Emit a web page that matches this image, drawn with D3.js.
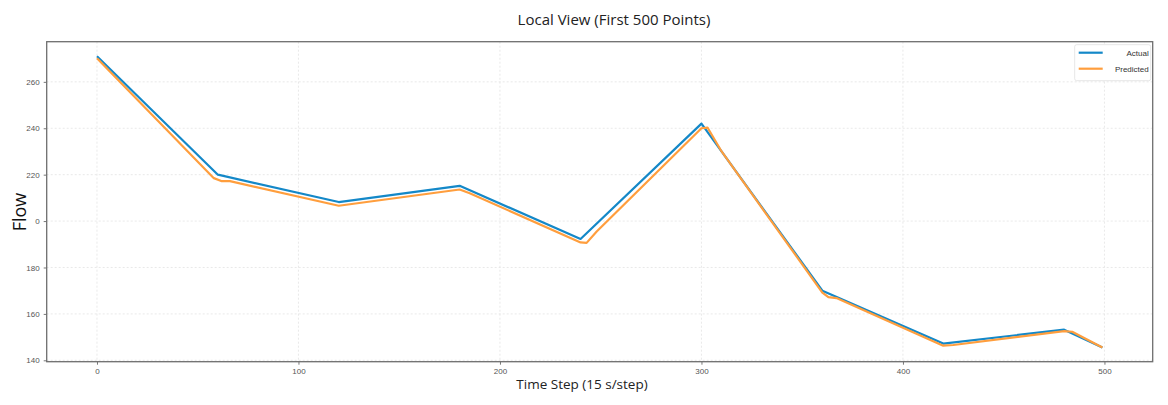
<!DOCTYPE html>
<html>
<head>
<meta charset="utf-8">
<script src="https://cdn.jsdelivr.net/npm/d3@7"></script>
<style>
  html, body { margin: 0; padding: 0; background: #fff; }
  svg { display: block; }
</style>
</head>
<body>
<div id="chart"></div>
<script>
// Values (time step, flow)
const actualSteps = [0, 60, 120, 180, 240, 300, 360, 420, 480, 499];
const actualFlow = [271, 220, 208.2, 215.2, 192.3, 242, 170, 147.2, 153.2, 145.5];

const predictedSteps = [0, 58, 62, 66, 120, 180, 185, 240, 243, 248, 300, 303, 310, 360, 363, 367, 420, 425, 480, 484, 499];
const predictedFlow = [270.2, 218.5, 217.2, 217.2, 206.6, 213.6, 212, 190.8, 190.6, 195.5, 240, 240.3, 230, 169.2, 167.2, 166.8, 146.3, 146.6, 152.6, 152.3, 145.5];

const xTicks = [0, 100, 200, 300, 400, 500];
const yTicks = [140, 160, 180, 200, 220, 240, 260];
const yTickLabels = ['140', '160', '180', '0', '220', '240', '260'];

const W = 1168, H = 405;
const margin = { left: 46.7, right: 15.3, top: 41.7, bottom: 43.3 };
const width = W - margin.left - margin.right;
const height = H - margin.top - margin.bottom;

const svg = d3.select('#chart').append('svg')
  .attr('width', W)
  .attr('height', H);

const g = svg.append('g')
  .attr('transform', `translate(${margin.left},${margin.top})`);

// matplotlib-style 5% padding around the data
const xScale = d3.scaleLinear().domain([-24.95, 523.95]).range([0, width]);
const yScale = d3.scaleLinear().domain([139.4, 277.3]).range([height, 0]);

// Grid
g.append('g').selectAll('line').data(xTicks).join('line')
  .attr('x1', d => xScale(d)).attr('x2', d => xScale(d))
  .attr('y1', 0).attr('y2', height)
  .attr('stroke', '#e3e3e3').attr('stroke-width', 0.8)
  .attr('stroke-dasharray', '2,2');

g.append('g').selectAll('line').data(yTicks).join('line')
  .attr('x1', 0).attr('x2', width)
  .attr('y1', d => yScale(d)).attr('y2', d => yScale(d))
  .attr('stroke', '#e3e3e3').attr('stroke-width', 0.8)
  .attr('stroke-dasharray', '2,2');

// Axes
const xAxis = d3.axisBottom(xScale).tickValues(xTicks).tickSize(3).tickPadding(4);
const yAxis = d3.axisLeft(yScale).tickValues(yTicks).tickSize(3).tickPadding(4)
  .tickFormat((d, i) => yTickLabels[i]);

const xg = g.append('g').attr('transform', `translate(0,${height})`).call(xAxis);
const yg = g.append('g').call(yAxis);

[xg, yg].forEach(ax => {
  ax.select('.domain').remove();
  ax.selectAll('line').attr('stroke', '#777');
  ax.selectAll('text')
    .attr('fill', '#555')
    .attr('font-family', 'Liberation Sans, Arial, sans-serif')
    .attr('font-size', '8px');
});

// Frame
g.append('rect')
  .attr('width', width).attr('height', height)
  .attr('fill', 'none')
  .attr('stroke', '#6e6e6e')
  .attr('stroke-width', 1.3);

// Lines
const line = d3.line()
  .x(d => xScale(d[0]))
  .y(d => yScale(d[1]));

const actual = actualSteps.map((s, i) => [s, actualFlow[i]]);
const predicted = predictedSteps.map((s, i) => [s, predictedFlow[i]]);

g.append('path')
  .datum(actual)
  .attr('d', line)
  .attr('fill', 'none')
  .attr('stroke', '#1488c8')
  .attr('stroke-width', 2.2)
  .attr('stroke-linejoin', 'round');

g.append('path')
  .datum(predicted)
  .attr('d', line)
  .attr('fill', 'none')
  .attr('stroke', '#ff9e3d')
  .attr('stroke-width', 2.2)
  .attr('stroke-linejoin', 'round');

// Legend
const legend = svg.append('g')
  .attr('transform', `translate(${W - margin.right - 78},${margin.top + 3})`);

legend.append('rect')
  .attr('width', 76).attr('height', 36)
  .attr('rx', 2)
  .attr('fill', '#fff')
  .attr('stroke', '#e0e0e0')
  .attr('stroke-width', 0.8);

const legendItems = [
  { label: 'Actual', color: '#1488c8' },
  { label: 'Predicted', color: '#ff9e3d' }
];

legendItems.forEach((item, i) => {
  const row = legend.append('g').attr('transform', `translate(0,${8 + i * 16})`);
  row.append('line')
    .attr('x1', 4).attr('x2', 28)
    .attr('y1', 0).attr('y2', 0)
    .attr('stroke', item.color)
    .attr('stroke-width', 2.2);
  row.append('text')
    .attr('x', 74).attr('y', 3 + i * 0)
    .attr('text-anchor', 'end')
    .attr('fill', '#333')
    .attr('font-family', 'Liberation Sans, Arial, sans-serif')
    .attr('font-size', '8px')
    .text(item.label);
});

// Title and axis labels
svg.append('text')
  .attr('x', 614).attr('y', 25)
  .attr('text-anchor', 'middle')
  .attr('fill', '#222')
  .attr('font-family', 'Open Sans, sans-serif')
  .attr('font-size', '15px')
  .text('Local View (First 500 Points)');

svg.append('text')
  .attr('x', 582).attr('y', 389)
  .attr('text-anchor', 'middle')
  .attr('fill', '#222')
  .attr('font-family', 'Open Sans, sans-serif')
  .attr('font-size', '13.5px')
  .text('Time Step (15 s/step)');

svg.append('text')
  .attr('transform', 'rotate(-90)')
  .attr('x', -212).attr('y', 26)
  .attr('text-anchor', 'middle')
  .attr('fill', '#111')
  .attr('font-family', 'Open Sans, sans-serif')
  .attr('font-size', '18px')
  .text('Flow');
</script>
</body>
</html>
